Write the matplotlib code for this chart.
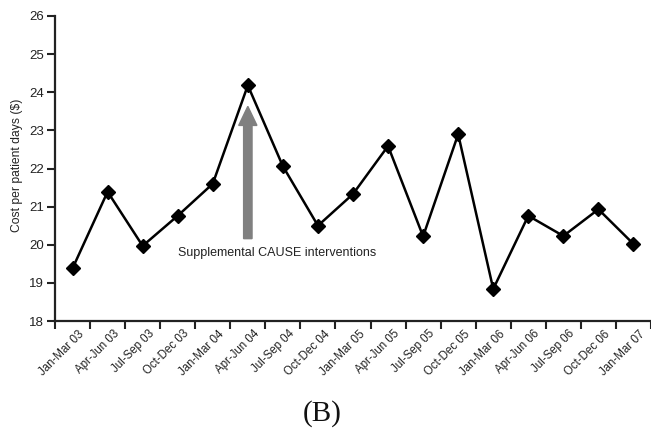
import matplotlib
matplotlib.use("Agg")
import matplotlib.pyplot as plt
import matplotlib.transforms as mtransforms
import numpy as np

quarters = ["Jan-Mar 03", "Apr-Jun 03", "Jul-Sep 03", "Oct-Dec 03",
            "Jan-Mar 04", "Apr-Jun 04", "Jul-Sep 04", "Oct-Dec 04",
            "Jan-Mar 05", "Apr-Jun 05", "Jul-Sep 05", "Oct-Dec 05",
            "Jan-Mar 06", "Apr-Jun 06", "Jul-Sep 06", "Oct-Dec 06",
            "Jan-Mar 07"]
cost = [19.38, 21.39, 19.97, 20.76, 21.60, 24.18, 22.06, 20.50,
        21.33, 22.59, 20.22, 22.90, 18.84, 20.76, 20.23, 20.93, 20.02]
yticks = [18, 19, 20, 21, 22, 23, 24, 25, 26]
annotation = "Supplemental CAUSE interventions"
arrow_index = 5
arrow_from, arrow_to = 20.16, 23.63
panel_label = "(B)"

plt.rcParams['font.family'] = ['Liberation Sans', 'DejaVu Sans']

fig = plt.figure(figsize=(6.51, 4.29), dpi=100)
ax = fig.add_axes([55/651, 1-321/429, 1-55/651, (321-16)/429])

x = np.arange(len(quarters))
ax.plot(x, cost, color='black', lw=1.8, marker='D', markersize=6.8,
        markerfacecolor='black', markeredgecolor='black', zorder=3)

ax.set_xlim(-0.5, len(quarters) - 0.5)
ax.set_ylim(18, 26)
ax.set_yticks(yticks)
ax.set_yticklabels([str(v) for v in yticks], fontsize=9.5, color='#222222')

ax.set_xticks(x)
ax.set_xticklabels(quarters, rotation=45, ha='right', va='top',
                   rotation_mode='anchor', fontsize=8.3, color='#222222')
ax.tick_params(axis='x', which='major', length=0, pad=5)
ax.set_xticks(np.arange(-0.5, len(quarters) + 0.5, 1.0), minor=True)
ax.tick_params(axis='x', which='minor', length=6, width=1.5, direction='out', color='#222222')
ax.tick_params(axis='y', length=6, width=1.5, direction='out', color='#222222', pad=2)

offset = mtransforms.ScaledTranslation(4/72, 0, fig.dpi_scale_trans)
for lab in ax.get_xticklabels():
    lab.set_transform(lab.get_transform() + offset)

for s in ['top', 'right']:
    ax.spines[s].set_visible(False)
for s in ['left', 'bottom']:
    ax.spines[s].set_linewidth(1.6)
    ax.spines[s].set_color('#222222')

ax.set_ylabel("Cost per patient days ($)", fontsize=8.7, color='#222222')
ax.yaxis.set_label_coords(-0.053, 0.51)

ax.arrow(arrow_index, arrow_from, 0, arrow_to - arrow_from, width=0.24,
         head_width=0.52, head_length=0.5, length_includes_head=True,
         color='#808080', zorder=2)
ax.text(arrow_index + 0.85, 19.79, annotation, fontsize=9, color='#222222',
        ha='center', va='center')

fig.text(322/651, 1-414/429, panel_label, fontsize=21, ha='center', va='center',
         family=['Liberation Serif', 'DejaVu Serif'], color='#111111')

fig.savefig("out.png", dpi=100)
